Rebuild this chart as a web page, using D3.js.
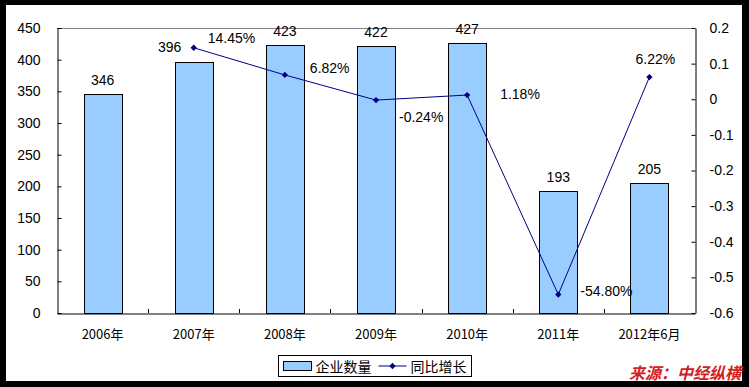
<!DOCTYPE html>
<html lang="zh">
<head>
<meta charset="UTF-8" />
<title>企业数量与同比增长</title>
<script src="https://d3js.org/d3.v7.min.js"></script>
<style>
  body { margin: 0; background: #000; }
  svg { display: block; }
</style>
</head>
<body>
<script>
  // data
  var years = ["2006年", "2007年", "2008年", "2009年", "2010年", "2011年", "2012年6月"];
  var counts = [346, 396, 423, 422, 427, 193, 205];
  var growth = [null, 0.1445, 0.0682, -0.0024, 0.0118, -0.548, 0.0622];
  var growthText = ["", "14.45%", "6.82%", "-0.24%", "1.18%", "-54.80%", "6.22%"];
  var leftTicks = [0, 50, 100, 150, 200, 250, 300, 350, 400, 450];
  var rightTicks = [-0.6, -0.5, -0.4, -0.3, -0.2, -0.1, 0, 0.1, 0.2];

  // label nudges (layout only)
  var countDx = [0, -24, 0, 0, 0, 0, 0];
  var growthDx = [0, 14, 25, 23, 33, 22, 6];
  var growthDy = [0, -10, -7, 17, -1, -3, -18];

  var w = 749, h = 387;
  var pL = 57, pR = 695, pT = 28, pB = 313;

  var svg = d3.select("body").append("svg")
      .attr("width", w)
      .attr("height", h);

  svg.append("rect")
      .attr("x", 6).attr("y", 5)
      .attr("width", 736).attr("height", 376)
      .attr("fill", "#fff");

  var x = d3.scaleBand().domain(years).range([pL, pR]);
  var yL = d3.scaleLinear().domain([0, 450]).range([pB, pT]);
  var yR = d3.scaleLinear().domain([-0.6, 0.2]).range([pB, pT]);
  var cx = function (i) { return x(years[i]) + x.bandwidth() / 2; };

  // top border of plot
  svg.append("line")
      .attr("x1", pL).attr("x2", pR)
      .attr("y1", pT + 0.5).attr("y2", pT + 0.5)
      .attr("stroke", "#808080");

  // bars
  var bw = 38;
  svg.selectAll("rect.bar")
      .data(counts)
      .enter()
      .append("rect")
      .attr("class", "bar")
      .attr("x", function (d, i) { return Math.round(cx(i) - bw / 2) + 0.5; })
      .attr("y", function (d) { return Math.round(yL(d)) + 0.5; })
      .attr("width", bw)
      .attr("height", function (d) { return pB - Math.round(yL(d)); })
      .attr("fill", "#99ccff")
      .attr("stroke", "#000")
      .attr("stroke-width", 1);

  // axes
  var axL = svg.append("g")
      .attr("transform", "translate(" + (pL + 0.5) + ",0)")
      .call(d3.axisLeft(yL).tickValues(leftTicks).tickSizeInner(-4).tickSizeOuter(0).tickPadding(17));
  var axR = svg.append("g")
      .attr("transform", "translate(" + (pR + 0.5) + ",0)")
      .call(d3.axisRight(yR).tickValues(rightTicks).tickSizeInner(-4).tickSizeOuter(0).tickPadding(14)
            .tickFormat(function (d) { return String(+d.toFixed(1)); }));
  var axB = svg.append("g")
      .attr("transform", "translate(0," + (pB + 0.5) + ")")
      .call(d3.axisBottom(x).tickSize(0).tickPadding(16));

  // band boundary ticks on the x axis
  svg.selectAll("line.xt")
      .data(years.slice(1))
      .enter()
      .append("line")
      .attr("class", "xt")
      .attr("x1", function (d) { return Math.round(x(d)) + 0.5; })
      .attr("x2", function (d) { return Math.round(x(d)) + 0.5; })
      .attr("y1", pB).attr("y2", pB - 4)
      .attr("stroke", "#000");

  [axL, axR, axB].forEach(function (g) {
      g.select(".domain").attr("stroke", "#000");
      g.selectAll(".tick line").attr("stroke", "#000");
  });
  axL.selectAll("text").attr("font-family", "Liberation Sans, Arial, sans-serif").attr("font-size", "14px").attr("fill", "#000");
  axR.selectAll("text").attr("font-family", "Liberation Sans, Arial, sans-serif").attr("font-size", "14px").attr("fill", "#000");
  axB.selectAll("text").attr("font-family", "Noto Sans CJK SC, sans-serif").attr("font-size", "13px").attr("fill", "#000");

  // bar value labels
  svg.selectAll("text.cnt")
      .data(counts)
      .enter()
      .append("text")
      .attr("class", "cnt")
      .text(function (d) { return d; })
      .attr("x", function (d, i) { return cx(i) + countDx[i]; })
      .attr("y", function (d, i) { return yL(d) - (i == 1 ? 10 : 9); })
      .attr("text-anchor", "middle")
      .attr("font-family", "Liberation Sans, Arial, sans-serif")
      .attr("font-size", "14px")
      .attr("fill", "#000");

  // growth line
  var idx = d3.range(years.length).filter(function (i) { return growth[i] !== null; });
  var line = d3.line()
      .x(function (i) { return cx(i); })
      .y(function (i) { return yR(growth[i]); });
  svg.append("path")
      .datum(idx)
      .attr("d", line)
      .attr("fill", "none")
      .attr("stroke", "#000080")
      .attr("stroke-width", 1);

  var diamond = d3.symbol().type(d3.symbolSquare).size(20);
  svg.selectAll("path.mk")
      .data(idx)
      .enter()
      .append("path")
      .attr("class", "mk")
      .attr("d", diamond)
      .attr("transform", function (i) { return "translate(" + cx(i) + "," + yR(growth[i]) + ") rotate(45)"; })
      .attr("fill", "#000080");

  svg.selectAll("text.gr")
      .data(idx)
      .enter()
      .append("text")
      .attr("class", "gr")
      .text(function (i) { return growthText[i]; })
      .attr("x", function (i) { return cx(i) + growthDx[i]; })
      .attr("y", function (i) { return yR(growth[i]) + growthDy[i]; })
      .attr("dy", "0.35em")
      .attr("text-anchor", function (i) { return i == 6 ? "middle" : "start"; })
      .attr("font-family", "Liberation Sans, Arial, sans-serif")
      .attr("font-size", "14px")
      .attr("fill", "#000");

  // legend
  var lg = svg.append("g").attr("transform", "translate(278.5,355.5)");
  lg.append("rect").attr("width", 193).attr("height", 21).attr("fill", "#fff").attr("stroke", "#000");
  lg.append("rect").attr("x", 5).attr("y", 6).attr("width", 28).attr("height", 9)
      .attr("fill", "#99ccff").attr("stroke", "#000");
  lg.append("text").attr("x", 37).attr("y", 16).text("企业数量")
      .attr("font-family", "Noto Sans CJK SC, sans-serif").attr("font-size", "14px").attr("fill", "#000");
  lg.append("line").attr("x1", 100).attr("x2", 128).attr("y1", 10.5).attr("y2", 10.5)
      .attr("stroke", "#000080");
  lg.append("path").attr("d", diamond).attr("transform", "translate(114,10.5) rotate(45)").attr("fill", "#000080");
  lg.append("text").attr("x", 132).attr("y", 16).text("同比增长")
      .attr("font-family", "Noto Sans CJK SC, sans-serif").attr("font-size", "14px").attr("fill", "#000");

  // source
  svg.append("text")
      .attr("x", 741).attr("y", 379)
      .attr("text-anchor", "end")
      .text("来源：中经纵横")
      .attr("font-family", "Noto Sans CJK SC, sans-serif")
      .attr("font-size", "16px")
      .attr("font-weight", "bold")
      .attr("font-style", "italic")
      .attr("fill", "#d42020");
</script>
</body>
</html>
